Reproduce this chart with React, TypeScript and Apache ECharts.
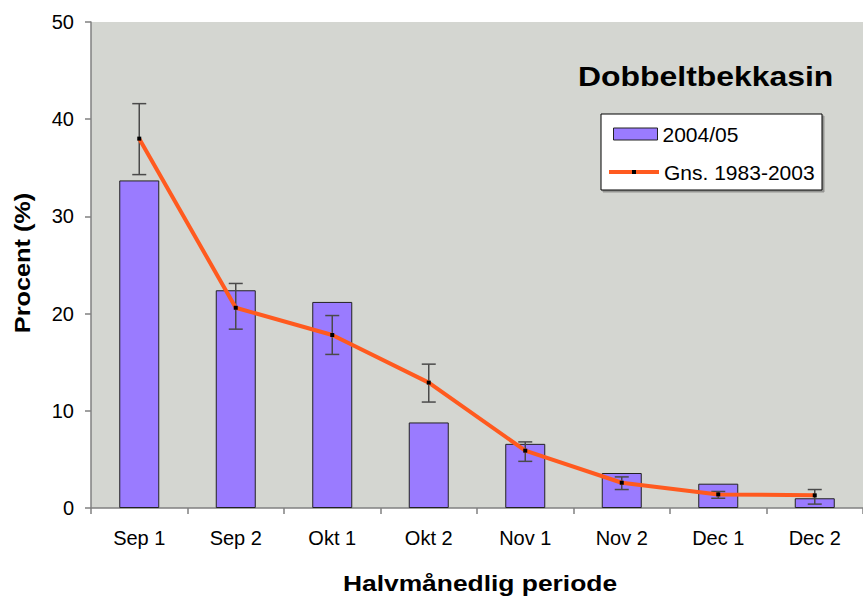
import React, { useEffect, useRef } from "react";
import * as echarts from "echarts";

const categories = ["Sep 1", "Sep 2", "Okt 1", "Okt 2", "Nov 1", "Nov 2", "Dec 1", "Dec 2"];
const season2004 = [33.7, 22.4, 21.2, 8.8, 6.6, 3.6, 2.5, 1.0];
const avg19832003 = [38.0, 20.6, 17.8, 12.9, 5.9, 2.6, 1.4, 1.3];
const errHigh = [41.6, 23.1, 19.8, 14.8, 6.8, 3.2, 1.7, 1.9];
const errLow = [34.3, 18.4, 15.8, 10.9, 4.8, 1.9, 1.0, 0.4];
const yTicks = { min: 0, max: 50, interval: 10 };

const FONT = "'Liberation Sans', Arial, Helvetica, sans-serif";
const BAR_COLOR = "#9A7BFF";
const LINE_COLOR = "#FF5A1F";

export default function App() {
  const ref = useRef<HTMLDivElement>(null);
  useEffect(() => {
    if (!ref.current) return;
    const chart = echarts.init(ref.current, undefined, { renderer: "svg" });
    const errData = categories.map((_, i) => [i, errHigh[i], errLow[i]]);
    const legendText = { fontFamily: FONT, fontSize: 21, color: "#000", lineHeight: 24 };
    const option: any = {
      animation: false,
      backgroundColor: "#ffffff",
      textStyle: { fontFamily: FONT },
      grid: {
        left: 91,
        right: 0,
        top: 22,
        bottom: 88,
        show: true,
        backgroundColor: "#D4D6D1",
        borderWidth: 0,
      },
      legend: [
        {
          data: [
            {
              name: "2004/05",
              icon: "rect",
              itemStyle: { color: BAR_COLOR, borderColor: "#222", borderWidth: 1 },
            },
          ],
          orient: "vertical",
          left: 613,
          top: 122,
          itemWidth: 44,
          itemHeight: 12,
          padding: 0,
          z: 6,
          textStyle: legendText,
          selectedMode: false,
        },
        {
          data: [{ name: "Gns. 1983-2003" }],
          orient: "vertical",
          left: 607,
          top: 160,
          itemWidth: 50,
          itemHeight: 5,
          padding: 0,
          z: 6,
          lineStyle: { width: 4, color: LINE_COLOR },
          itemStyle: { color: "#000" },
          textStyle: legendText,
          selectedMode: false,
        },
      ],
      xAxis: {
        type: "category",
        data: categories,
        boundaryGap: true,
        axisLine: { show: true, lineStyle: { color: "#808080", width: 1.5 } },
        axisTick: { show: true, alignWithLabel: false, length: 6, lineStyle: { color: "#808080", width: 1.5 } },
        axisLabel: { interval: 0, fontSize: 20, color: "#000", margin: 20, fontFamily: FONT },
        splitLine: { show: false },
      },
      yAxis: {
        type: "value",
        min: yTicks.min,
        max: yTicks.max,
        interval: yTicks.interval,
        axisLine: { show: true, lineStyle: { color: "#808080", width: 1.5 } },
        axisTick: { show: true, length: 6, lineStyle: { color: "#808080", width: 1.5 } },
        axisLabel: { fontSize: 20, color: "#000", margin: 17, fontFamily: FONT },
        splitLine: { show: false },
      },
      graphic: [
        {
          type: "rect",
          z: 5,
          shape: { x: 601, y: 114, width: 221, height: 76 },
          style: {
            fill: "#ffffff",
            stroke: "#000000",
            lineWidth: 1,
            shadowColor: "rgba(0,0,0,0.3)",
            shadowOffsetX: 2,
            shadowOffsetY: 2,
            shadowBlur: 1,
          },
        },
        {
          type: "text",
          x: 578,
          y: 76,
          scaleX: 1.14,
          style: {
            text: "Dobbeltbekkasin",
            x: 0,
            y: 0,
            fill: "#000",
            font: "bold 28px " + FONT,
            align: "left",
            verticalAlign: "middle",
            textAlign: "left",
            textVerticalAlign: "middle",
          },
        },
        {
          type: "text",
          x: 480,
          y: 583,
          scaleX: 1.2,
          style: {
            text: "Halvmånedlig periode",
            x: 0,
            y: 0,
            fill: "#000",
            font: "bold 22px " + FONT,
            align: "center",
            verticalAlign: "middle",
            textAlign: "center",
            textVerticalAlign: "middle",
          },
        },
        {
          type: "text",
          x: 23,
          y: 263,
          rotation: Math.PI / 2,
          scaleX: 1.15,
          style: {
            text: "Procent (%)",
            x: 0,
            y: 0,
            fill: "#000",
            font: "bold 22px " + FONT,
            align: "center",
            verticalAlign: "middle",
            textAlign: "center",
            textVerticalAlign: "middle",
          },
        },
      ],
      series: [
        {
          name: "2004/05",
          type: "bar",
          data: season2004,
          barWidth: 40,
          itemStyle: { color: BAR_COLOR, borderColor: "#222", borderWidth: 1 },
          z: 2,
        },
        {
          name: "errors",
          type: "custom",
          data: errData,
          encode: { x: 0, y: [1, 2] },
          z: 3,
          renderItem: (params: any, api: any) => {
            const idx = api.value(0);
            const hi = api.coord([idx, api.value(1)]);
            const lo = api.coord([idx, api.value(2)]);
            const half = 7;
            const style = { stroke: "#4a4a4a", lineWidth: 1.5 };
            return {
              type: "group",
              children: [
                { type: "line", shape: { x1: hi[0], y1: hi[1], x2: lo[0], y2: lo[1] }, style },
                { type: "line", shape: { x1: hi[0] - half, y1: hi[1], x2: hi[0] + half, y2: hi[1] }, style },
                { type: "line", shape: { x1: lo[0] - half, y1: lo[1], x2: lo[0] + half, y2: lo[1] }, style },
              ],
            };
          },
        },
        {
          name: "Gns. 1983-2003",
          type: "line",
          data: avg19832003,
          symbol: "rect",
          symbolSize: 4,
          showAllSymbol: true,
          lineStyle: { color: LINE_COLOR, width: 4 },
          itemStyle: { color: "#000" },
          z: 4,
        },
      ],
    };
    chart.setOption(option);
    return () => chart.dispose();
  }, []);
  return (
    <div
      ref={ref}
      style={{ position: "fixed", left: 0, top: 0, width: 863, height: 596 }}
    />
  );
}
